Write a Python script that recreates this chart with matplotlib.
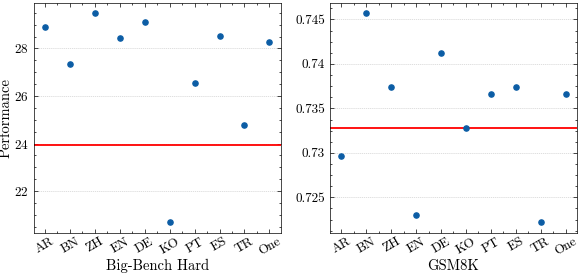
"""
Per-language performance on Big-Bench Hard and GSM8K, with the baseline as a red line.
"""

import matplotlib
matplotlib.use("Agg")
import matplotlib.pyplot as plt
from matplotlib.ticker import AutoMinorLocator, FuncFormatter

languages = ["AR", "BN", "ZH", "EN", "DE", "KO", "PT", "ES", "TR", "One"]
bbh_scores = [28.90, 27.33, 29.48, 28.43, 29.10, 20.69, 26.55, 28.51, 24.76, 28.28]
bbh_baseline = 23.93
gsm8k_scores = [0.7297, 0.7457, 0.7374, 0.7230, 0.7412, 0.7328, 0.7366, 0.7374, 0.7222, 0.7366]
gsm8k_baseline = 0.7328

plt.rcParams.update({
    "font.family": ["cmr10", "DejaVu Serif"],
    "mathtext.fontset": "cm",
    "axes.formatter.use_mathtext": True,
    "font.size": 9.5,
    "axes.labelsize": 10.5,
    "axes.linewidth": 0.5,
    "xtick.direction": "in",
    "ytick.direction": "in",
    "xtick.top": True,
    "ytick.right": True,
    "xtick.major.size": 3,
    "ytick.major.size": 3,
    "xtick.minor.size": 1.5,
    "ytick.minor.size": 1.5,
    "xtick.major.width": 0.5,
    "ytick.major.width": 0.5,
    "xtick.minor.width": 0.5,
    "ytick.minor.width": 0.5,
})

fig, (ax1, ax2) = plt.subplots(1, 2, figsize=(5.81, 2.77), dpi=100)

panels = [
    (ax1, bbh_scores, bbh_baseline, "Big-Bench Hard"),
    (ax2, gsm8k_scores, gsm8k_baseline, "GSM8K"),
]
for ax, scores, baseline, name in panels:
    ax.scatter(languages, scores, s=14, color="#0C5DA5", zorder=3)
    ax.axhline(baseline, color="red", linewidth=1.3, zorder=2)
    ax.grid(axis="y", color="#d9d9d9", linestyle="--", dashes=(1.5, 1), linewidth=0.6)
    ax.set_xlabel(name, labelpad=1)
    ax.xaxis.set_minor_locator(AutoMinorLocator(2))
    ax.yaxis.set_minor_locator(AutoMinorLocator(4))
    plt.setp(ax.get_xticklabels(), rotation=30)
    ax.tick_params(axis="x", pad=2)

ax1.set_ylabel("Performance", labelpad=1)
ax2.yaxis.set_major_formatter(FuncFormatter(lambda v, _: f"{v:g}"))

fig.subplots_adjust(left=0.058, right=0.993, top=0.99, bottom=0.16, wspace=0.2)
fig.savefig("out.png", dpi=100)
